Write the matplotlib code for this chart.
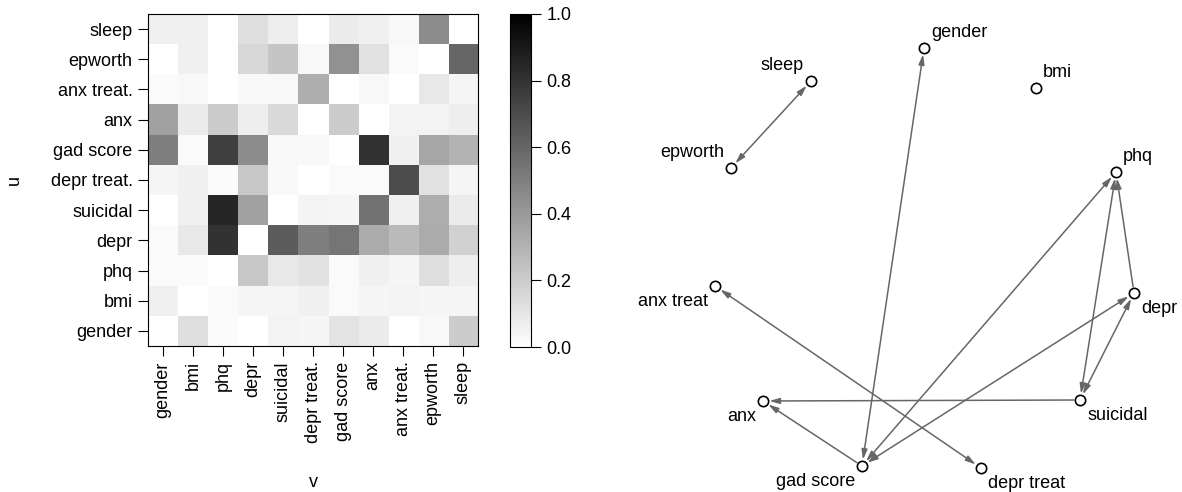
import numpy as np
import matplotlib.pyplot as plt
from matplotlib.colors import LinearSegmentedColormap

plt.rcParams['font.family'] = ['Liberation Sans', 'DejaVu Sans']

# heatmap: columns (v) left to right, rows (u) top to bottom
cols = ['gender', 'bmi', 'phq', 'depr', 'suicidal', 'depr treat.', 'gad score',
        'anx', 'anx treat.', 'epworth', 'sleep']
rows = ['sleep', 'epworth', 'anx treat.', 'anx', 'gad score', 'depr treat.',
        'suicidal', 'depr', 'phq', 'bmi', 'gender']
vals = [
    [0.06, 0.06, 0.00, 0.13, 0.07, 0.00, 0.08, 0.06, 0.03, 0.45, 0.00],
    [0.00, 0.06, 0.00, 0.16, 0.23, 0.03, 0.43, 0.12, 0.02, 0.00, 0.60],
    [0.02, 0.03, 0.00, 0.03, 0.03, 0.32, 0.00, 0.03, 0.00, 0.09, 0.04],
    [0.37, 0.08, 0.20, 0.07, 0.15, 0.00, 0.20, 0.00, 0.05, 0.05, 0.07],
    [0.50, 0.02, 0.75, 0.45, 0.03, 0.03, 0.00, 0.80, 0.06, 0.35, 0.30],
    [0.04, 0.06, 0.02, 0.22, 0.03, 0.00, 0.02, 0.02, 0.70, 0.12, 0.04],
    [0.00, 0.06, 0.85, 0.37, 0.00, 0.05, 0.04, 0.55, 0.06, 0.32, 0.08],
    [0.02, 0.09, 0.80, 0.00, 0.64, 0.50, 0.54, 0.33, 0.27, 0.33, 0.18],
    [0.02, 0.02, 0.00, 0.22, 0.09, 0.12, 0.02, 0.06, 0.04, 0.13, 0.07],
    [0.06, 0.00, 0.02, 0.04, 0.04, 0.06, 0.02, 0.04, 0.05, 0.04, 0.04],
    [0.00, 0.13, 0.02, 0.00, 0.05, 0.04, 0.11, 0.08, 0.00, 0.03, 0.20],
]

# network graph: node names and positions (pixel-like layout coords)
nodes = ['gender', 'sleep', 'bmi', 'epworth', 'phq', 'anx treat', 'depr',
         'anx', 'suicidal', 'gad score', 'depr treat']
node_x = [924, 811, 1036, 731, 1116, 715, 1134, 763, 1080, 862, 981]
node_y = [48, 81, 88, 168, 172, 286, 293, 401, 400, 466, 468]
# label offsets: 'ur' upper right, 'ul' upper left, 'lr', 'll'
label_pos = ['ur', 'ul', 'ur', 'ul', 'ur', 'll', 'lr', 'll', 'lr', 'll', 'lr']
# edges (from, to, bidirected)
edges = [
    ('sleep', 'epworth', True),
    ('gad score', 'gender', True),
    ('gad score', 'phq', True),
    ('gad score', 'depr', True),
    ('gad score', 'anx', False),
    ('anx treat', 'depr treat', True),
    ('suicidal', 'anx', False),
    ('suicidal', 'phq', True),
    ('suicidal', 'depr', True),
    ('depr', 'phq', False),
]

fig = plt.figure(figsize=(11.82, 4.92), dpi=100)

cmap = LinearSegmentedColormap.from_list('wb', ['#ffffff', '#000000'])

ax = fig.add_axes([148 / 1182, 1 - 346 / 492, 330 / 1182, 332 / 492])
im = ax.imshow(np.array(vals), cmap=cmap, vmin=0, vmax=1, aspect='auto',
               interpolation='nearest')
ax.set_xticks(range(len(cols)))
ax.set_xticklabels(cols, rotation=90, fontsize=13)
ax.set_yticks(range(len(rows)))
ax.set_yticklabels(rows, fontsize=13)
ax.tick_params(length=7, pad=4)
ax.set_xlabel('v', fontsize=13, labelpad=22)
ax.set_ylabel('u', fontsize=13, labelpad=20)

cax = fig.add_axes([510 / 1182, 1 - 347 / 492, 21 / 1182, 333 / 492])
cb = fig.colorbar(im, cax=cax, ticks=[0, 0.2, 0.4, 0.6, 0.8, 1.0])
cb.ax.set_yticklabels(['0.0', '0.2', '0.4', '0.6', '0.8', '1.0'], fontsize=13)
cb.ax.tick_params(length=7, pad=4)
cb.outline.set_linewidth(0.8)

# network
gx = fig.add_axes([591 / 1182, 0, 591 / 1182, 1])
gx.set_xlim(591, 1182)
gx.set_ylim(492, 0)
gx.axis('off')
idx = {n: i for i, n in enumerate(nodes)}
for a, b, both in edges:
    i, j = idx[a], idx[b]
    head = 'head_length=0.6,head_width=0.17'
    style = ('<|-|>,' if both else '-|>,') + head
    gx.annotate('', xy=(node_x[j], node_y[j]), xytext=(node_x[i], node_y[i]),
                arrowprops=dict(arrowstyle=style, color='#666666', lw=1.1,
                                shrinkA=4.5, shrinkB=4.5, mutation_scale=10))
gx.scatter(node_x, node_y, s=55, facecolor='white', edgecolor='black',
           linewidths=1.2, zorder=3)
offs = {'ur': (7, -7, 'left', 'bottom'), 'ul': (-7, -7, 'right', 'bottom'),
        'lr': (7, 7, 'left', 'top'), 'll': (-7, 7, 'right', 'top')}
for n, x, y, p in zip(nodes, node_x, node_y, label_pos):
    dx, dy, ha, va = offs[p]
    gx.text(x + dx, y + dy, n, ha=ha, va=va, fontsize=13)

fig.savefig('out.png', dpi=100)
